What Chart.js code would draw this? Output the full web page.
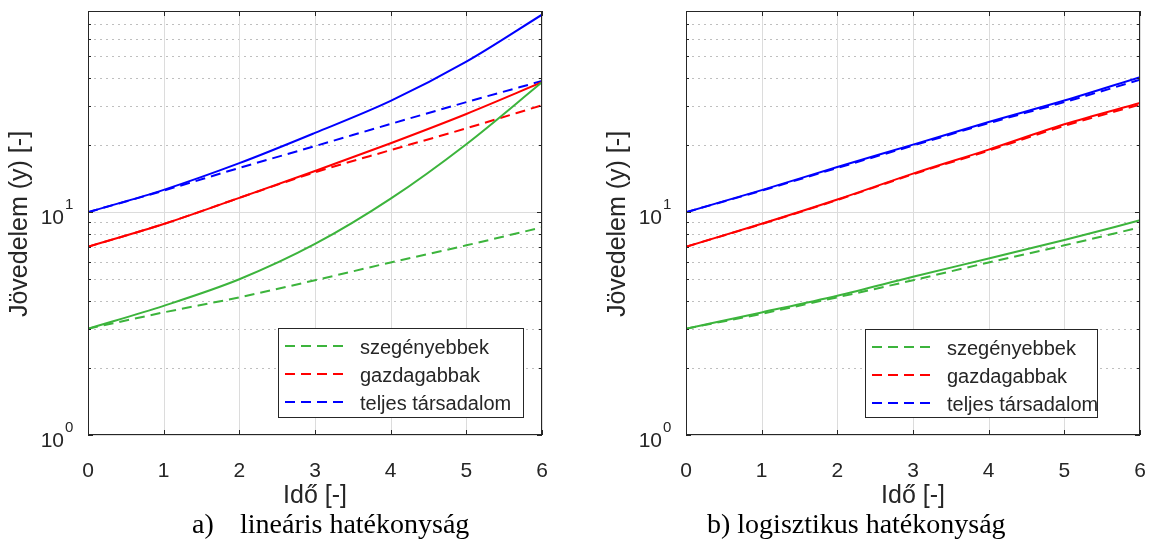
<!DOCTYPE html>
<html>
<head>
<meta charset="utf-8">
<script src="https://cdn.jsdelivr.net/npm/chart.js@4.4.0/dist/chart.umd.min.js"></script>
<style>
  html, body { margin: 0; padding: 0; background: #fff; overflow: hidden; }
  #wrap { position: relative; width: 1149px; height: 541px; }
  canvas { position: absolute; top: 0; }
  #chartA { left: 0; }
  #chartB { left: 598px; }
</style>
</head>
<body>
<div id="wrap">
  <canvas id="chartA" width="551" height="541"></canvas>
  <canvas id="chartB" width="551" height="541"></canvas>
</div>
<script>
// Idő (x) values and ticks
const years = [0, 1, 2, 3, 4, 5, 6];
const xTicks = [0, 1, 2, 3, 4, 5, 6];
const yMajor = [1, 10];
const yMinor = [2, 3, 4, 5, 6, 7, 8, 9, 20, 30, 40, 50, 60, 70, 80];
const seriesNames = ['szegényebbek', 'gazdagabbak', 'teljes társadalom'];

// a) lineáris hatékonyság
const linPoorSolid  = [3, 3.8, 5.0, 7.2, 11.5, 20.2, 38.3];
const linPoorDashed = [3, 3.55, 4.15, 4.95, 5.95, 7.1, 8.55];
const linRichSolid  = [7, 8.85, 11.6, 15.3, 20.4, 27.6, 38.3];
const linRichDashed = [7, 8.85, 11.6, 15.1, 19.0, 23.8, 30.2];
const linAllSolid   = [10, 12.6, 16.6, 22.7, 31.6, 47.4, 77];
const linAllDashed  = [10, 12.5, 15.8, 19.8, 24.9, 31.2, 38.8];

// b) logisztikus hatékonyság
const logPoorSolid  = [3, 3.55, 4.22, 5.13, 6.2, 7.5, 9.2];
const logPoorDashed = [3, 3.5, 4.15, 4.95, 5.95, 7.1, 8.55];
const logRichSolid  = [7, 8.87, 11.4, 14.9, 19.1, 24.8, 30.9];
const logRichDashed = [7, 8.85, 11.35, 14.8, 18.9, 24.4, 30.4];
const logAllSolid   = [10, 12.56, 15.95, 20.1, 25.4, 31.7, 40.4];
const logAllDashed  = [10, 12.5, 15.8, 19.9, 25.1, 31.2, 39.3];

const GREEN = '#3cb43c';
const RED = '#ff0000';
const BLUE = '#0000ff';
const INK = '#262626';
const SANS = '"Liberation Sans", Arial, sans-serif';
const SERIF = '"Liberation Serif", "Times New Roman", serif';
const DASH = [10, 6];

function pts(values) {
  return values.map((v, i) => ({ x: years[i], y: v }));
}

function line(values, color, dashed) {
  return {
    data: pts(values),
    borderColor: color,
    borderWidth: 2,
    borderDash: dashed ? DASH : [],
    pointRadius: 0,
    fill: false,
    cubicInterpolationMode: 'monotone'
  };
}

// MATLAB-like frame: grid, box, inner ticks, labels, legend, caption
const matlabAxes = {
  id: 'matlabAxes',
  beforeDatasetsDraw(chart) {
    const { ctx, chartArea: a, scales: { x, y } } = chart;
    ctx.save();
    ctx.lineWidth = 1;
    // minor y grid (dotted)
    ctx.strokeStyle = 'rgba(0,0,0,0.25)';
    ctx.setLineDash([2, 4]);
    yMinor.forEach(v => {
      const py = Math.round(y.getPixelForValue(v)) + 0.5;
      ctx.beginPath(); ctx.moveTo(a.left, py); ctx.lineTo(a.right, py); ctx.stroke();
    });
    // major grid (solid)
    ctx.setLineDash([]);
    ctx.strokeStyle = '#dcdcdc';
    yMajor.forEach(v => {
      const py = Math.round(y.getPixelForValue(v)) + 0.5;
      ctx.beginPath(); ctx.moveTo(a.left, py); ctx.lineTo(a.right, py); ctx.stroke();
    });
    xTicks.forEach(v => {
      const px = Math.round(x.getPixelForValue(v)) + 0.5;
      ctx.beginPath(); ctx.moveTo(px, a.top); ctx.lineTo(px, a.bottom); ctx.stroke();
    });
    ctx.restore();
  },
  afterDatasetsDraw(chart, args, opts) {
    const { ctx, chartArea: a, scales: { x, y } } = chart;
    ctx.save();
    // box
    ctx.strokeStyle = INK;
    ctx.lineWidth = 1;
    ctx.strokeRect(a.left + 0.5, a.top + 0.5, a.right - a.left - 1, a.bottom - a.top - 1);
    // inner ticks
    ctx.beginPath();
    xTicks.forEach(v => {
      const px = Math.round(x.getPixelForValue(v)) + 0.5;
      ctx.moveTo(px, a.bottom); ctx.lineTo(px, a.bottom - 5);
      ctx.moveTo(px, a.top); ctx.lineTo(px, a.top + 5);
    });
    yMajor.concat(yMinor).forEach(v => {
      const len = yMajor.includes(v) ? 5 : 3;
      const py = Math.round(y.getPixelForValue(v)) + 0.5;
      ctx.moveTo(a.left, py); ctx.lineTo(a.left + len, py);
      ctx.moveTo(a.right, py); ctx.lineTo(a.right - len, py);
    });
    ctx.stroke();

    // y tick labels 10^n
    ctx.fillStyle = INK;
    yMajor.forEach(v => {
      const py = y.getPixelForValue(v);
      ctx.font = '21px ' + SANS;
      ctx.textAlign = 'right';
      ctx.textBaseline = 'middle';
      ctx.fillText('10', a.left - 24, py + 6);
      ctx.font = '15px ' + SANS;
      ctx.textAlign = 'left';
      ctx.fillText(String(Math.round(Math.log10(v))), a.left - 23, py - 7);
    });

    // axis titles
    ctx.font = '25px ' + SANS;
    ctx.textAlign = 'center';
    ctx.textBaseline = 'middle';
    ctx.fillText('Idő [-]', (a.left + a.right) / 2, 496);
    ctx.save();
    ctx.translate(20, 224);
    ctx.rotate(-Math.PI / 2);
    ctx.fillText('Jövedelem (y) [-]', 0, 0);
    ctx.restore();

    // legend (dashed series)
    const lg = opts.legend;
    ctx.fillStyle = '#fff';
    ctx.fillRect(lg.x, lg.y, lg.w, lg.h);
    ctx.strokeStyle = INK;
    ctx.strokeRect(lg.x + 0.5, lg.y + 0.5, lg.w, lg.h);
    const colors = [GREEN, RED, BLUE];
    ctx.font = '20px ' + SANS;
    ctx.textAlign = 'left';
    ctx.textBaseline = 'middle';
    seriesNames.forEach((name, i) => {
      const ry = lg.y + 18 + i * 28;
      ctx.strokeStyle = colors[i];
      ctx.lineWidth = 2;
      ctx.setLineDash(DASH);
      ctx.beginPath(); ctx.moveTo(lg.x + 7, ry); ctx.lineTo(lg.x + 71, ry); ctx.stroke();
      ctx.setLineDash([]);
      ctx.fillStyle = INK;
      ctx.fillText(name, lg.x + 82, ry + 2);
    });

    // caption
    ctx.fillStyle = '#000';
    ctx.font = '28px ' + SERIF;
    ctx.textBaseline = 'alphabetic';
    opts.caption.forEach(c => ctx.fillText(c.text, c.x, 533));
    ctx.restore();
  }
};

function makeChart(id, sets, legend, caption) {
  return new Chart(document.getElementById(id), {
    type: 'line',
    data: { datasets: sets },
    options: {
      responsive: false,
      animation: false,
      layout: { padding: { left: 0, right: 9, top: 11, bottom: 0 } },
      scales: {
        x: {
          type: 'linear',
          min: 0,
          max: 6,
          afterFit: s => { s.height = 106; s.paddingLeft = 0; s.paddingRight = 0; },
          grid: { display: false },
          border: { display: false },
          ticks: {
            stepSize: 1,
            padding: 16,
            color: INK,
            font: { family: SANS, size: 21 }
          }
        },
        y: {
          type: 'logarithmic',
          min: 1,
          max: 80,
          afterFit: s => { s.width = 88; s.paddingTop = 0; s.paddingBottom = 0; },
          grid: { display: false },
          border: { display: false },
          ticks: { display: false }
        }
      },
      plugins: {
        legend: { display: false },
        tooltip: { enabled: false },
        matlabAxes: { legend: legend, caption: caption }
      }
    },
    plugins: [matlabAxes]
  });
}

makeChart('chartA', [
  line(linPoorSolid, GREEN, false),
  line(linRichSolid, RED, false),
  line(linAllSolid, BLUE, false),
  line(linPoorDashed, GREEN, true),
  line(linRichDashed, RED, true),
  line(linAllDashed, BLUE, true)
], { x: 278, y: 328, w: 245, h: 89 },
[{ text: 'a)', x: 192 }, { text: 'lineáris hatékonyság', x: 240 }]);

makeChart('chartB', [
  line(logPoorSolid, GREEN, false),
  line(logRichSolid, RED, false),
  line(logAllSolid, BLUE, false),
  line(logPoorDashed, GREEN, true),
  line(logRichDashed, RED, true),
  line(logAllDashed, BLUE, true)
], { x: 267, y: 329, w: 232, h: 88 },
[{ text: 'b) logisztikus hatékonyság', x: 109 }]);
</script>
</body>
</html>
